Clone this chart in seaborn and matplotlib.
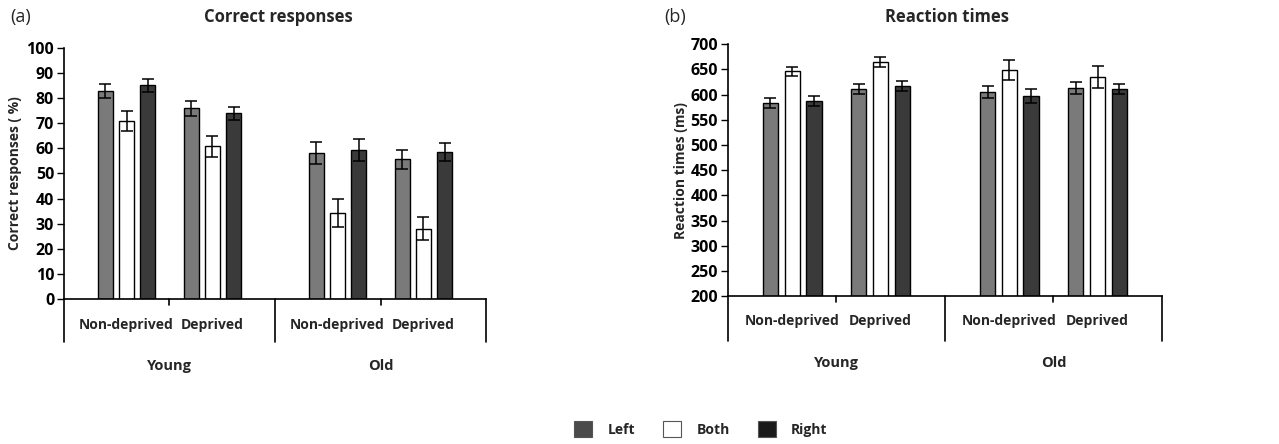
import numpy as np
import pandas as pd
import matplotlib
matplotlib.use("Agg")
import matplotlib.pyplot as plt
import seaborn as sns
from matplotlib.patches import Patch

# ---------------- data ----------------
conditions = ["Non-deprived", "Deprived", "Non-deprived", "Deprived"]
age_groups = ["Young", "Old"]
sides = ["Left", "Both", "Right"]

correct_left = [83.0, 76.0, 58.2, 55.6]
correct_both = [71.0, 60.8, 34.2, 28.0]
correct_right = [85.2, 74.0, 59.2, 58.7]
correct_left_err = [2.8, 3.1, 4.3, 3.7]
correct_both_err = [4.0, 4.1, 5.7, 4.6]
correct_right_err = [2.6, 2.5, 4.4, 3.6]

rt_left = [583, 611, 606, 613]
rt_both = [646, 664, 649, 635]
rt_right = [588, 618, 597, 611]
rt_left_err = [10, 10, 12, 12]
rt_both_err = [8, 10, 20, 21]
rt_right_err = [10, 10, 14, 10]

# ---------------- layout ----------------
group_pos = [0.0, 1.0, 2.46, 3.46]
bar_colors = {"Left": "#7a7a7a", "Both": "#ffffff", "Right": "#3a3a3a"}
legend_colors = {"Left": "#4a4a4a", "Both": "#ffffff", "Right": "#1a1a1a"}
WIDTH = 0.74

sns.set_theme(style="white")
plt.rcParams["font.family"] = ["Open Sans", "DejaVu Sans"]
plt.rcParams["font.weight"] = "bold"
plt.rcParams["axes.labelweight"] = "bold"

fig = plt.figure(figsize=(12.79, 4.44), dpi=100)
axA = fig.add_axes([0.0500, 0.3273, 0.3300, 0.5639])
axB = fig.add_axes([0.5690, 0.3333, 0.3395, 0.5669])

FS = 10


def make_df(lv, bv, rv, le, be, re):
    rows = []
    for i, p in enumerate(group_pos):
        rows.append({"pos": p, "side": "Left", "value": lv[i], "err": le[i]})
        rows.append({"pos": p, "side": "Both", "value": bv[i], "err": be[i]})
        rows.append({"pos": p, "side": "Right", "value": rv[i], "err": re[i]})
    return pd.DataFrame(rows)


def draw(ax, df, ylim, yticks, ylabel, lines_depth, lab_off, age_off, lpad):
    sns.barplot(data=df, x="pos", y="value", hue="side", hue_order=sides,
                palette=bar_colors, native_scale=True, width=WIDTH, gap=0.3,
                edgecolor="black", linewidth=1.0, errorbar=None, legend=False,
                ax=ax)
    slot = WIDTH / 3
    for patch in ax.patches:
        if patch.get_width() <= 0:
            continue
        cx = patch.get_x() + patch.get_width() / 2
        h = patch.get_height()
        g = int(np.argmin([abs(cx - p) for p in group_pos]))
        s = int(round((cx - group_pos[g]) / slot)) + 1
        err = df[(df.pos == group_pos[g]) & (df.side == sides[s])]["err"].iloc[0]
        ax.errorbar(cx, h, yerr=err, fmt="none", ecolor="black",
                    elinewidth=1.1, capsize=4.0, capthick=1.1, zorder=5)
    ax.set_xlim(-0.73, 4.19)
    ax.set_ylim(*ylim)
    ax.set_yticks(yticks)
    ax.set_yticklabels([str(t) for t in yticks], fontsize=FS + 1.5, fontweight="bold")
    ax.set_xticks(group_pos)
    ax.set_xticklabels(conditions, fontsize=FS, fontweight="bold")
    ax.tick_params(axis="x", length=0, pad=lab_off)
    ax.tick_params(axis="y", length=5, width=1.0, direction="out", pad=2,
                   left=True, colors="black")
    ax.set_xlabel("")
    ax.set_ylabel(ylabel, fontsize=FS, fontweight="bold", labelpad=lpad)
    for sp in ["top", "right"]:
        ax.spines[sp].set_visible(False)
    for sp in ["left", "bottom"]:
        ax.spines[sp].set_color("black")
        ax.spines[sp].set_linewidth(1.2)
    tr = ax.transAxes
    for xf in [0.0, 0.5, 1.0]:
        ax.plot([xf, xf], [0, -lines_depth], color="black", lw=1.2,
                transform=tr, clip_on=False)
    for xf in [0.25, 0.75]:
        ax.plot([xf, xf], [0, -0.025], color="black", lw=1.2,
                transform=tr, clip_on=False)
    for xf, name in zip([0.25, 0.75], age_groups):
        ax.text(xf, -age_off, name, transform=tr, ha="center", va="center",
                fontsize=FS + 0.5, fontweight="bold")


dfA = make_df(correct_left, correct_both, correct_right,
              correct_left_err, correct_both_err, correct_right_err)
dfB = make_df(rt_left, rt_both, rt_right, rt_left_err, rt_both_err, rt_right_err)

draw(axA, dfA, (0, 100), list(range(0, 101, 10)), "Correct responses ( %)",
     0.173, 14, 0.269, 3)
draw(axB, dfB, (200, 700), list(range(200, 701, 50)), "Reaction times (ms)",
     0.18, 13, 0.265, 2)

fig.text(10 / 1279, 1 - 17 / 444, "(a)", fontsize=13, fontweight="normal",
         ha="left", va="center")
fig.text(278 / 1279, 1 - 17 / 444, "Correct responses", fontsize=12,
         fontweight="bold", ha="center", va="center")
fig.text(664 / 1279, 1 - 17 / 444, "(b)", fontsize=13, fontweight="normal",
         ha="left", va="center")
fig.text(947 / 1279, 1 - 17 / 444, "Reaction times", fontsize=12,
         fontweight="bold", ha="center", va="center")

handles = [Patch(facecolor=legend_colors[s], edgecolor="#555555", linewidth=0.8,
                 label=s) for s in sides]
fig.legend(handles=handles, loc="center", bbox_to_anchor=(0.548, 0.034),
           ncol=3, frameon=False, fontsize=FS, handlelength=1.3,
           handleheight=1.4, handletextpad=1.1, columnspacing=2.0)

fig.savefig("out.png", dpi=100, facecolor="white")
